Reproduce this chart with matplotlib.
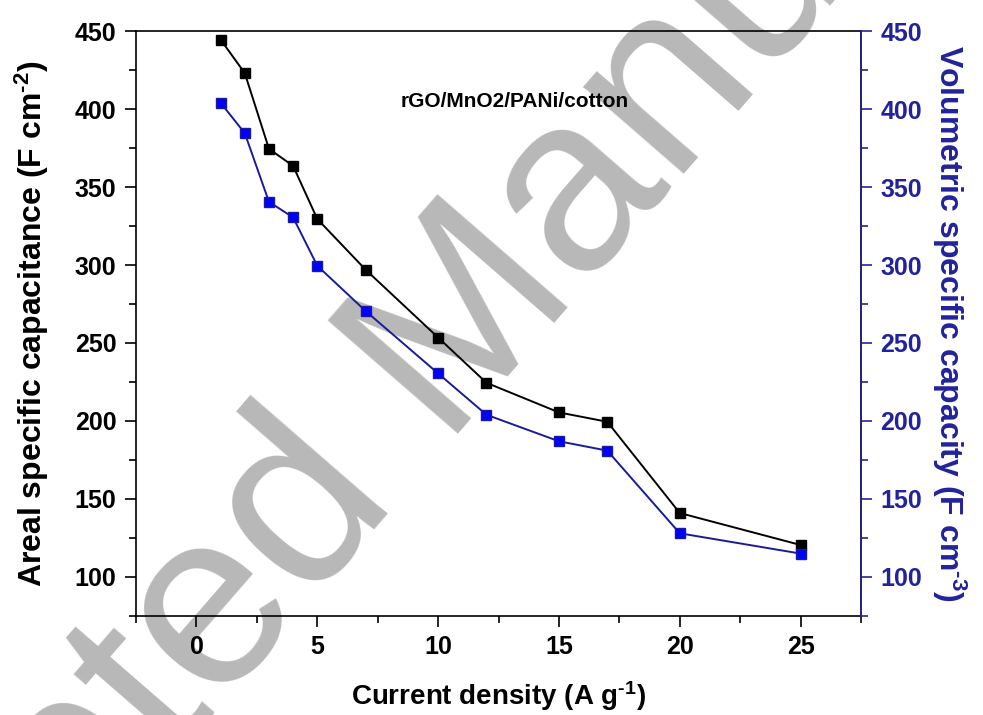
import matplotlib
matplotlib.use('Agg')
import matplotlib.pyplot as plt
from matplotlib.ticker import MultipleLocator

plt.rcParams['font.family'] = ['Liberation Sans', 'DejaVu Sans']
plt.rcParams['font.weight'] = 'bold'
plt.rcParams['axes.labelweight'] = 'bold'
plt.rcParams['mathtext.fontset'] = 'custom'
plt.rcParams['mathtext.rm'] = 'Liberation Sans:bold'
plt.rcParams['mathtext.it'] = 'Liberation Sans:bold'
plt.rcParams['mathtext.bf'] = 'Liberation Sans:bold'

# datos
densidad = [1, 2, 3, 4, 5, 7, 10, 12, 15, 17, 20, 25]
areal = [444.5, 423, 374.5, 363.5, 329.5, 297, 253.5, 224.5, 205.5, 199.5, 141, 120.5]
volumetrica = [404, 384.5, 340.5, 330.5, 299.5, 270.5, 230.5, 204, 187, 181, 128, 115]

azul_eje = '#22229c'
azul_linea = '#1a1a9a'

fig = plt.figure(figsize=(9.83, 7.15), dpi=100)
ax = fig.add_axes([0.1384, 0.1385, 0.7375, 0.8181])
ax2 = ax.twinx()

# marca de agua
ax.text(0.44, 0.49, 'Accepted Manuscript', transform=fig.transFigure,
        fontsize=180, fontweight='normal', color='#b8b8b8', rotation=49,
        ha='center', va='center', rotation_mode='anchor', zorder=0, clip_on=False)

ax.plot(densidad, areal, color='black', marker='s', markersize=7, linewidth=1.4,
        markerfacecolor='black', markeredgecolor='black', zorder=3)
ax2.plot(densidad, volumetrica, color=azul_linea, marker='s', markersize=7, linewidth=1.4,
         markerfacecolor='#0000ff', markeredgecolor=azul_linea, zorder=3)

ax.set_xlim(-2.5, 27.5)
ax.set_ylim(75, 450)
ax2.set_ylim(75, 450)

ax.xaxis.set_major_locator(MultipleLocator(5))
ax.xaxis.set_minor_locator(MultipleLocator(2.5))
ax.yaxis.set_minor_locator(MultipleLocator(25))
ax2.yaxis.set_minor_locator(MultipleLocator(25))
ax.set_yticks([100, 150, 200, 250, 300, 350, 400, 450])
ax2.set_yticks([100, 150, 200, 250, 300, 350, 400, 450])

ax.tick_params(axis='both', which='major', direction='out', length=8, width=1.2, labelsize=18, pad=6)
ax.tick_params(axis='both', which='minor', direction='out', length=5, width=1.2)
ax.tick_params(axis='y', which='both', right=False)
ax.tick_params(axis='x', which='both', top=False)
ax2.tick_params(axis='y', which='major', direction='out', length=8, width=1.2, labelsize=18,
                pad=6, colors=azul_eje)
ax2.tick_params(axis='y', which='minor', direction='out', length=5, width=1.2, colors=azul_eje)

for s in ax.spines.values():
    s.set_linewidth(1.2)
for s in ax2.spines.values():
    s.set_linewidth(1.2)
ax2.spines['right'].set_color(azul_eje)
ax2.spines['left'].set_visible(False)
ax2.spines['top'].set_visible(False)
ax2.spines['bottom'].set_visible(False)

ax.set_xlabel('Current density (A g$^{\\text{-1}}$)', fontsize=20, labelpad=14)
ax.set_ylabel('Areal specific capacitance (F cm$^{\\text{-2}}$)', fontsize=23, labelpad=17)
ax2.set_ylabel('Volumetric specific capacity (F cm$^{\\text{-3}}$)', fontsize=23, color=azul_eje,
               rotation=270, labelpad=33)

ax.text(0.522, 0.88, 'rGO/MnO2/PANi/cotton', transform=ax.transAxes, fontsize=15,
        ha='center', va='center', zorder=4)

ax.patch.set_visible(False)
ax2.patch.set_visible(False)

plt.savefig('out.png', dpi=100)
